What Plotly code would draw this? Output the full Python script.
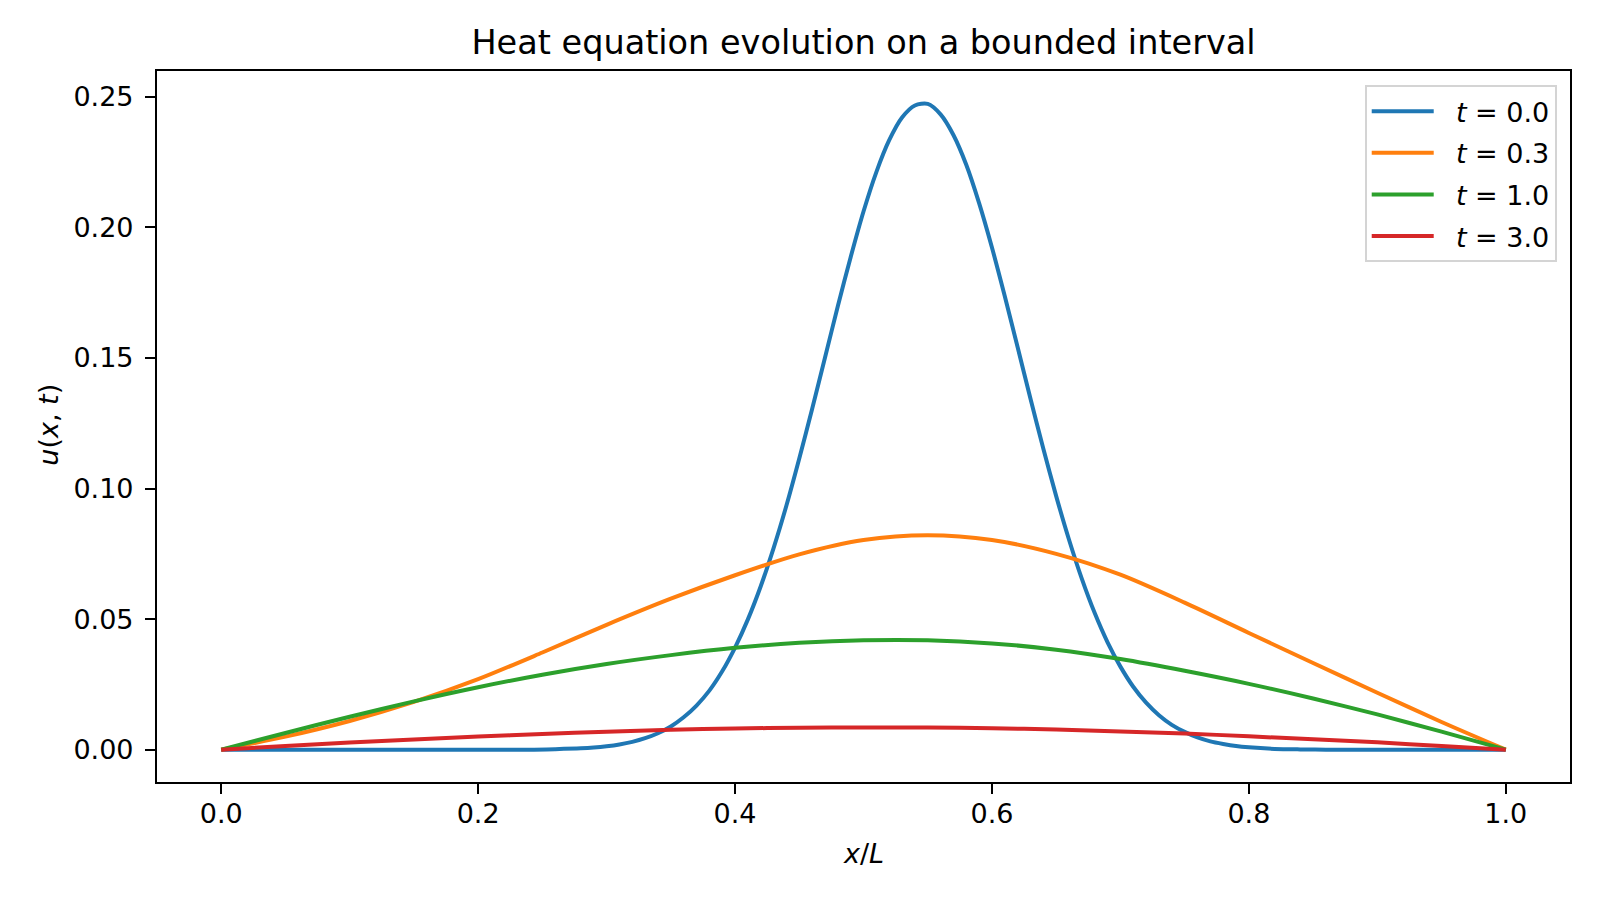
import plotly.graph_objects as go

# ---- data ----
x_blue = [0.00, 0.10, 0.20, 0.24, 0.26, 0.28, 0.29,
          0.30, 0.31, 0.32, 0.33, 0.34, 0.35, 0.36, 0.37, 0.38, 0.39,
          0.40, 0.41, 0.42, 0.43, 0.44, 0.45, 0.46, 0.47, 0.48, 0.49,
          0.50, 0.51, 0.52, 0.53, 0.54, 0.55, 0.56, 0.57, 0.58, 0.59,
          0.60, 0.61, 0.62, 0.63, 0.64, 0.65, 0.66, 0.67, 0.68, 0.69,
          0.70, 0.71, 0.72, 0.73, 0.74, 0.75, 0.76, 0.77, 0.78, 0.79,
          0.80, 0.82, 0.84, 0.86, 0.90, 1.00]
u_t00 = [0.0, 0.0, 0.0, 0.0, 0.0002, 0.0005, 0.0008,
         0.0013, 0.0020, 0.0030, 0.0044, 0.0063, 0.0089, 0.0124, 0.0169, 0.0226, 0.0300,
         0.0391, 0.0499, 0.0626, 0.0772, 0.0935, 0.1115, 0.1305, 0.1501, 0.1698, 0.1886,
         0.2061, 0.2212, 0.2334, 0.2421, 0.2467, 0.2473, 0.2433, 0.2354, 0.2240, 0.2093,
         0.1923, 0.1736, 0.1541, 0.1344, 0.1152, 0.0971, 0.0804, 0.0654, 0.0523, 0.0411,
         0.0318, 0.0241, 0.0180, 0.0132, 0.0095, 0.0068, 0.0047, 0.0032, 0.0022, 0.0014,
         0.0009, 0.0003, 0.0001, 0.0, 0.0, 0.0]

x_grid = [0.00, 0.05, 0.10, 0.15, 0.20, 0.25, 0.30, 0.35, 0.40, 0.45, 0.50,
          0.55, 0.60, 0.65, 0.70, 0.75, 0.80, 0.85, 0.90, 0.95, 1.00]
u_t03 = [0.0, 0.0050, 0.0110, 0.0183, 0.0270, 0.0372, 0.0478, 0.0578, 0.0668, 0.0748, 0.0803,
         0.0821, 0.0803, 0.0750, 0.0670, 0.0563, 0.0447, 0.0332, 0.0218, 0.0106, 0.0]
u_t10 = [0.0, 0.0064, 0.0126, 0.0185, 0.0239, 0.0287, 0.0328, 0.0362, 0.0390, 0.0409, 0.0419,
         0.0419, 0.0407, 0.0383, 0.0347, 0.0302, 0.0252, 0.0196, 0.0135, 0.0069, 0.0]
u_t30 = [0.0, 0.0014, 0.0027, 0.0039, 0.0050, 0.0060, 0.0069, 0.0076, 0.0081, 0.0084, 0.0085,
         0.0085, 0.0082, 0.0077, 0.0070, 0.0062, 0.0051, 0.0040, 0.0028, 0.0014, 0.0]

labels = ["<i>t</i> = 0.0", "<i>t</i> = 0.3", "<i>t</i> = 1.0", "<i>t</i> = 3.0"]
colors = ["#1f77b4", "#ff7f0e", "#2ca02c", "#d62728"]

x_ticks = [0.0, 0.2, 0.4, 0.6, 0.8, 1.0]
y_ticks = [0.00, 0.05, 0.10, 0.15, 0.20, 0.25]

FONT = "DejaVu Sans"

fig = go.Figure()
series = [(x_blue, u_t00), (x_grid, u_t03), (x_grid, u_t10), (x_grid, u_t30)]
for i, ((xs, ys), name, col) in enumerate(zip(series, labels, colors)):
    fig.add_trace(go.Scatter(
        x=xs, y=ys, mode="lines", name="&nbsp;&nbsp;" + name, legendgroup=str(i),
        line=dict(color=col, width=4, shape="spline", smoothing=0.8),
    ))

axis_common = dict(
    showline=True, linecolor="black", linewidth=2.2, mirror=True,
    ticks="outside", ticklen=10, tickwidth=2.2, tickcolor="black",
    showgrid=False, zeroline=False,
    tickfont=dict(family=FONT, size=27, color="black"),
)

fig.update_layout(
    width=1600, height=900,
    paper_bgcolor="white", plot_bgcolor="white",
    margin=dict(l=157, r=30, t=71, b=118),
    title=dict(text="Heat equation evolution on a bounded interval",
               x=0.5, xref="paper", y=1 - 42 / 900, yanchor="middle",
               font=dict(family=FONT, size=33.5, color="black")),
    xaxis=dict(range=[-0.05, 1.05], tickvals=x_ticks,
               ticktext=[f"{v:.1f}" for v in x_ticks], ticklabelstandoff=-4,
               **axis_common),
    yaxis=dict(range=[-0.01238, 0.2599], tickvals=y_ticks,
               ticktext=[f"{v:.2f}" for v in y_ticks], ticklabelstandoff=6,
               **axis_common),
    legend=dict(x=0.9906, xanchor="right", y=0.98, yanchor="top",
                bgcolor="rgba(255,255,255,0.8)", bordercolor="#d4d4d4", borderwidth=2,
                font=dict(family=FONT, size=27, color="black"),
                itemwidth=62, tracegroupgap=3.5),
    showlegend=True,
    annotations=[
        dict(text="<i>x</i>/<i>L</i>", xref="paper", yref="paper", x=0.5, y=-0.1003,
             xanchor="center", yanchor="middle", showarrow=False,
             font=dict(family=FONT, size=27, color="black")),
        dict(text="<i>u</i>(<i>x</i>, <i>t</i>)", xref="paper", yref="paper", x=-0.0769, y=0.503,
             xanchor="center", yanchor="middle", showarrow=False, textangle=-90,
             font=dict(family=FONT, size=27, color="black")),
    ],
)

fig.write_html("out.html")
